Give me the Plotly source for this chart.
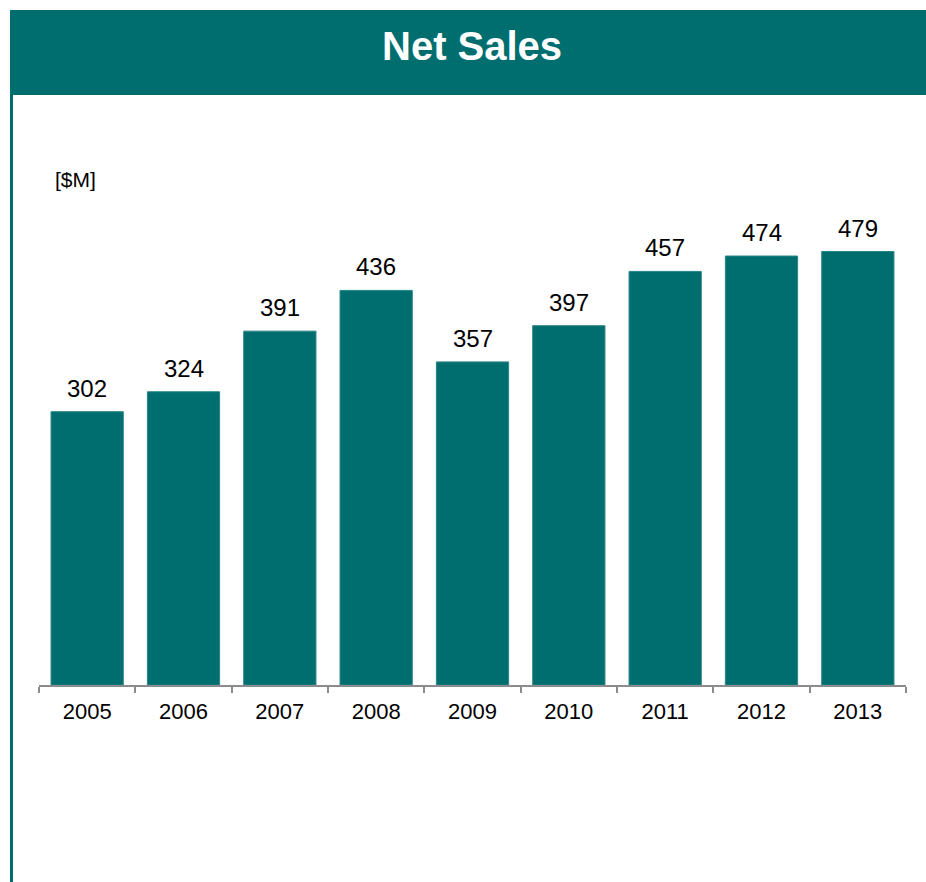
import plotly.graph_objects as go

years = ["2005", "2006", "2007", "2008", "2009", "2010", "2011", "2012", "2013"]
net_sales = [302, 324, 391, 436, 357, 397, 457, 474, 479]

TEAL = "#006E6F"
FONT = "Liberation Sans, Arial, sans-serif"

W, H = 926, 882
L, R, T, B = 39, 20, 150, 197
pw, ph = W - L - R, H - T - B


def px_x(p):
    return (p - L) / pw


def px_y(p):
    return (H - B - p) / ph


fig = go.Figure(
    go.Bar(
        x=years,
        y=net_sales,
        marker=dict(color=TEAL, line=dict(color="#2a8585", width=1)),
        width=0.75,
        hoverinfo="x+y",
    )
)

# value labels above each bar (x given as category index)
for i, v in enumerate(net_sales):
    fig.add_annotation(
        x=i, y=v, text=str(v), showarrow=False,
        yanchor="bottom", yshift=8,
        font=dict(family=FONT, size=24, color="#000000"),
    )

# unit label
fig.add_annotation(
    xref="paper", yref="paper", x=px_x(53), y=px_y(179),
    xanchor="left", yanchor="middle", text="[$M]", showarrow=False,
    font=dict(family=FONT, size=21, color="#000000"),
)

# header band with title
fig.add_shape(
    type="rect", xref="paper", yref="paper",
    x0=px_x(10), x1=px_x(930), y0=px_y(95), y1=px_y(10),
    fillcolor=TEAL, line=dict(width=0), layer="above",
)
fig.add_annotation(
    xref="paper", yref="paper", x=px_x(472), y=px_y(46),
    xanchor="center", yanchor="middle", text="<b>Net Sales</b>", showarrow=False,
    font=dict(family=FONT, size=40, color="#ffffff"),
)
# left frame line
fig.add_shape(
    type="rect", xref="paper", yref="paper",
    x0=px_x(10), x1=px_x(13), y0=px_y(890), y1=px_y(95),
    fillcolor=TEAL, line=dict(width=0), layer="above",
)

fig.update_layout(
    width=W, height=H,
    margin=dict(l=L, r=R, t=T, b=B),
    paper_bgcolor="#ffffff", plot_bgcolor="#ffffff",
    showlegend=False,
    font=dict(family=FONT),
)
fig.update_xaxes(
    type="category",
    categoryorder="array", categoryarray=years,
    range=[-0.5, len(years) - 0.5],
    showline=True, linecolor="#8c8c8c", linewidth=2,
    ticks="outside", tickson="boundaries", ticklen=6, tickcolor="#8c8c8c", tickwidth=2,
    tickfont=dict(family=FONT, size=22, color="#000000"),
    ticklabelstandoff=6,
    tickangle=0,
    showgrid=False,
)
fig.update_yaxes(
    range=[0, ph / 0.905],
    visible=False, showgrid=False, zeroline=False,
)

fig.write_html("out.html")
